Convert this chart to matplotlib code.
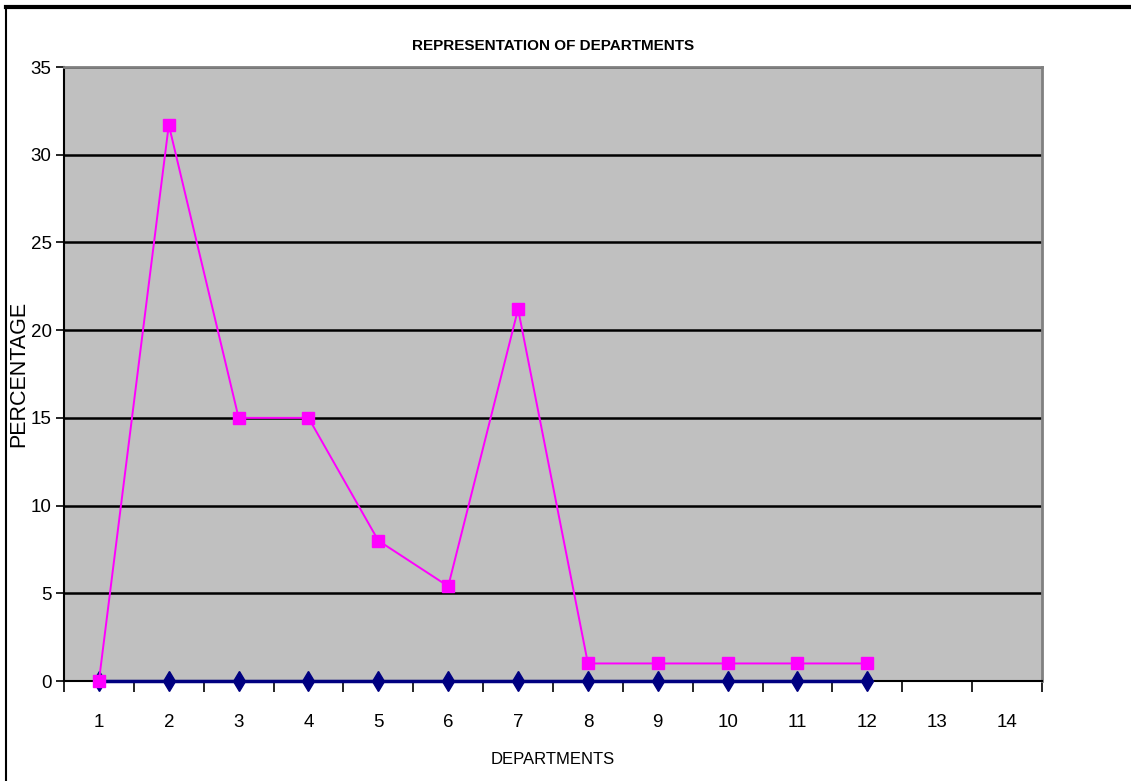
import numpy as np
import matplotlib
matplotlib.use("Agg")
from matplotlib import pyplot as plt
from matplotlib.lines import Line2D

# department numbers on the category axis
departments = list(range(1, 15))
# share of each department, in percent
percentage = [0, 31.7, 15.0, 15.0, 8.0, 5.4, 21.2, 1.0, 1.0, 1.0, 1.0, 1.0]
# baseline series, all zero
baseline = [0] * 12

plt.rcParams["font.family"] = ["Liberation Sans", "DejaVu Sans"]

fig = plt.figure(figsize=(11.31, 7.81), dpi=100)
W, H = 1131, 781
ax = fig.add_axes([64 / W, 1 - 681 / H, (1042 - 64) / W, (681 - 67) / H])
ax.set_facecolor("#c0c0c0")

x = np.arange(1, len(percentage) + 1)
ax.plot(x, baseline, color="#000080", lw=2.5, marker="d", ms=10,
        mfc="#000080", mec="#000080", zorder=3, clip_on=False)
ax.plot(x, percentage, color="#ff00ff", lw=1.4, marker="s", ms=8,
        mfc="#ff00ff", mec="#ff00ff", zorder=4, clip_on=False)

ax.set_xlim(0.5, len(departments) + 0.5)
ax.set_ylim(0, 35)

# y axis
ax.set_yticks(range(0, 36, 5))
ax.yaxis.grid(True, color="black", lw=1.8)
ax.set_axisbelow(True)
ax.tick_params(axis="y", direction="out", length=6, width=1.2, labelsize=13.5, pad=3)

# x axis: labels at the category centres, ticks between categories
ax.set_xticks(departments)
ax.set_xticklabels([str(d) for d in departments])
ax.set_xticks(np.arange(0.5, len(departments) + 1, 1), minor=True)
ax.tick_params(axis="x", which="major", length=0, labelsize=13.5, pad=24)
ax.tick_params(axis="x", which="minor", direction="out", length=8, width=1.2)

for side in ["left", "bottom"]:
    ax.spines[side].set_color("black")
    ax.spines[side].set_linewidth(1.5)
for side in ["top", "right"]:
    ax.spines[side].set_color("#808080")
    ax.spines[side].set_linewidth(2)

ax.set_title("REPRESENTATION OF DEPARTMENTS", fontsize=11, fontweight="bold", pad=12)
ax.set_xlabel("DEPARTMENTS", fontsize=12, labelpad=15)
ax.set_ylabel("PERCENTAGE", fontsize=15.5)
ax.yaxis.set_label_coords(-0.036, 0.5)

# chart frame
fig.add_artist(Line2D([6 / W, 1], [1 - 7 / H, 1 - 7 / H], color="black", lw=3,
                      transform=fig.transFigure))
fig.add_artist(Line2D([6 / W, 6 / W], [0, 1 - 7 / H], color="black", lw=1.5,
                      transform=fig.transFigure))

fig.savefig("out.png", dpi=100)
